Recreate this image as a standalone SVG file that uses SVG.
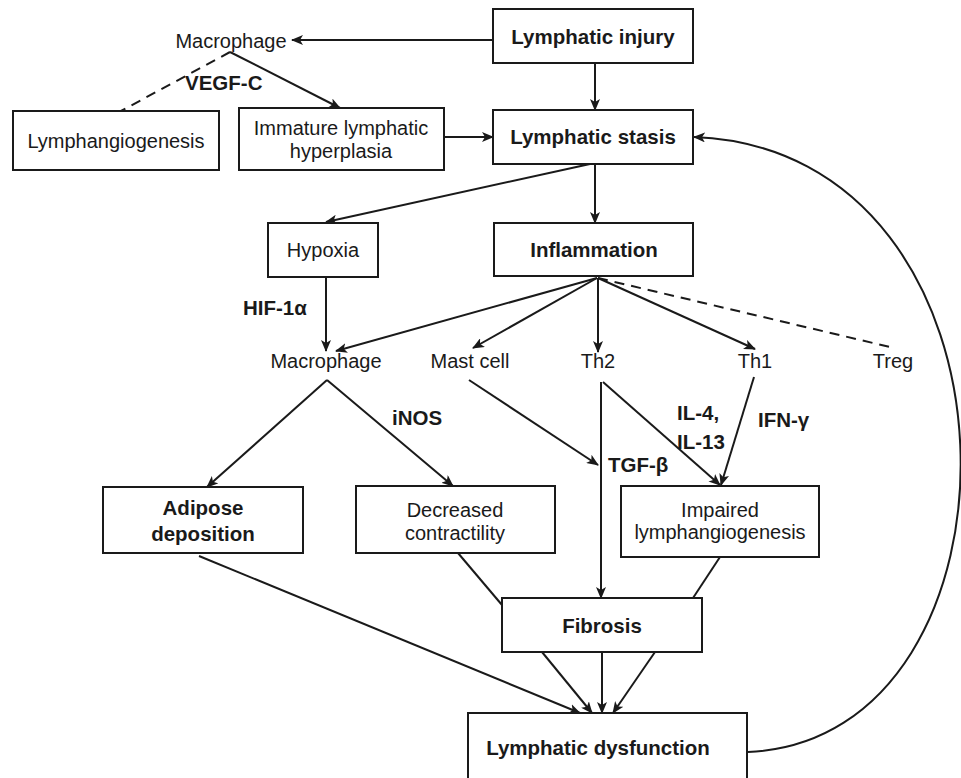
<svg xmlns="http://www.w3.org/2000/svg" width="961" height="778" viewBox="0 0 961 778">
<defs>
<marker id="ah" markerWidth="12" markerHeight="10" refX="11" refY="5" orient="auto" markerUnits="userSpaceOnUse">
<path d="M0,0 L12,5 L0,10 L3,5 Z" fill="#1a1a1a"/>
</marker>
</defs>
<style>
.box{fill:#fff;stroke:#1a1a1a;stroke-width:2}
.t{font-family:"Liberation Sans",Arial,sans-serif;font-size:20px;fill:#1a1a1a}
.b{font-family:"Liberation Sans",Arial,sans-serif;font-size:20.5px;font-weight:bold;fill:#1a1a1a}
.m{text-anchor:middle}
.c{fill:none;stroke:#1a1a1a;stroke-width:2}
.a{marker-end:url(#ah)}
.d{stroke-dasharray:10,7}
</style>
<rect width="961" height="778" fill="#fff"/>
<g id="connectors">
<line class="c a" x1="493" y1="40" x2="292" y2="40"/>
<line class="c a" x1="595" y1="63" x2="595" y2="110"/>
<line class="c a" x1="230" y1="52" x2="340" y2="108"/>
<line class="c d" x1="230" y1="52" x2="121" y2="111"/>
<line class="c a" x1="444" y1="137" x2="493" y2="137"/>
<line class="c a" x1="590" y1="164" x2="326" y2="222"/>
<line class="c a" x1="595" y1="164" x2="595" y2="223"/>
<line class="c a" x1="326" y1="277" x2="326" y2="351"/>
<line class="c a" x1="597" y1="278" x2="336" y2="351"/>
<line class="c a" x1="597" y1="278" x2="473" y2="348"/>
<line class="c a" x1="598" y1="278" x2="598" y2="352"/>
<line class="c a" x1="598" y1="278" x2="755" y2="349"/>
<line class="c d" x1="598" y1="278" x2="890" y2="347"/>
<line class="c a" x1="327" y1="380" x2="207" y2="487"/>
<line class="c a" x1="327" y1="380" x2="453" y2="486"/>
<line class="c a" x1="469" y1="380" x2="598" y2="465"/>
<line class="c a" x1="601" y1="382" x2="601" y2="598"/>
<line class="c a" x1="603" y1="382" x2="720" y2="485"/>
<line class="c a" x1="754" y1="377" x2="721" y2="485"/>
<line class="c" x1="458" y1="553" x2="502" y2="605"/>
<line class="c" x1="720" y1="557" x2="693" y2="598"/>
<line class="c a" x1="199" y1="556" x2="580" y2="713"/>
<line class="c a" x1="542" y1="652" x2="592" y2="713"/>
<line class="c a" x1="602" y1="652" x2="602" y2="713"/>
<line class="c a" x1="655" y1="652" x2="613" y2="713"/>
<path class="c a" d="M748,752 C1040,740 1040,150 694,137"/>
</g>
<g id="labels">
<text class="b" x="185" y="90">VEGF-C</text>
<text class="b" x="243" y="315">HIF-1α</text>
<text class="b" x="392" y="425">iNOS</text>
<text class="b" x="608" y="472">TGF-β</text>
<text class="b" x="677" y="420">IL-4,</text>
<text class="b" x="677" y="449">IL-13</text>
<text class="b" x="758" y="427">IFN-γ</text>
</g>
<g id="injury"><rect class="box" x="493" y="9" width="200" height="54"/><text class="b m" x="593" y="44">Lymphatic injury</text></g>
<g id="macrophage1"><text class="t m" x="231" y="48">Macrophage</text></g>
<g id="lymphangiogenesis"><rect class="box" x="13" y="111" width="206" height="59"/><text class="t m" x="116" y="148">Lymphangiogenesis</text></g>
<g id="immature"><rect class="box" x="239" y="108" width="205" height="62"/><text class="t m" x="341" y="135">Immature lymphatic</text><text class="t m" x="341" y="158">hyperplasia</text></g>
<g id="stasis"><rect class="box" x="493" y="110" width="200" height="54"/><text class="b m" x="593" y="144">Lymphatic stasis</text></g>
<g id="hypoxia"><rect class="box" x="268" y="223" width="110" height="54"/><text class="t m" x="323" y="257">Hypoxia</text></g>
<g id="inflammation"><rect class="box" x="494" y="223" width="199" height="53"/><text class="b m" x="594" y="257">Inflammation</text></g>
<g id="macrophage2"><text class="t m" x="326" y="368">Macrophage</text></g>
<g id="mastcell"><text class="t m" x="470" y="368">Mast cell</text></g>
<g id="th2"><text class="t m" x="598" y="368">Th2</text></g>
<g id="th1"><text class="t m" x="755" y="368">Th1</text></g>
<g id="treg"><text class="t m" x="893" y="368">Treg</text></g>
<g id="adipose"><rect class="box" x="103" y="487" width="200" height="66"/><text class="b m" x="203" y="515">Adipose</text><text class="b m" x="203" y="541">deposition</text></g>
<g id="decreased"><rect class="box" x="356" y="486" width="199" height="67"/><text class="t m" x="455" y="517">Decreased</text><text class="t m" x="455" y="540">contractility</text></g>
<g id="impaired"><rect class="box" x="621" y="486" width="198" height="71"/><text class="t m" x="720" y="517">Impaired</text><text class="t m" x="720" y="539">lymphangiogenesis</text></g>
<g id="fibrosis"><rect class="box" x="502" y="598" width="200" height="54"/><text class="b m" x="602" y="633">Fibrosis</text></g>
<g id="dysfunction"><rect class="box" x="468" y="713" width="279" height="80"/><text class="b m" x="598" y="755">Lymphatic dysfunction</text></g>
</svg>
